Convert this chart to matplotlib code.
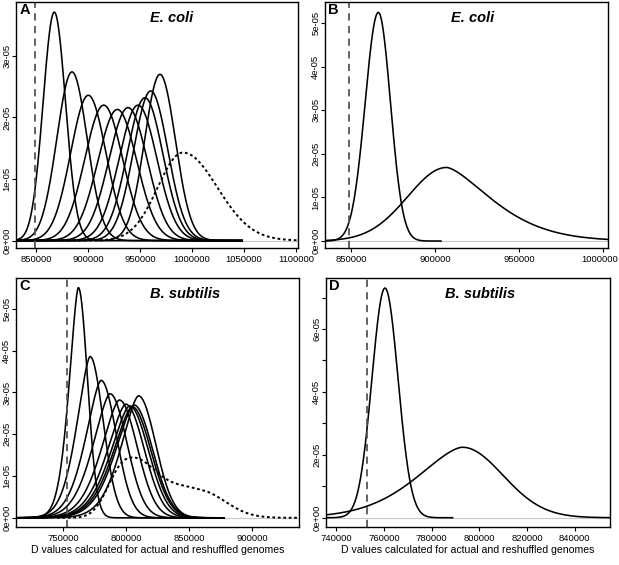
import numpy as np
import matplotlib
matplotlib.use("Agg")
import matplotlib.pyplot as plt
from matplotlib.ticker import FixedLocator, FuncFormatter
from matplotlib.transforms import ScaledTranslation

plt.rcParams['font.family'] = ['Liberation Sans', 'DejaVu Sans']

# ---------------- data ----------------
# Each density curve: mode, peak height, left / right half-width at half maximum
# Panel A: E. coli, reshuffled genomes (solid) and random (dotted)
A_modes = [867600, 884600, 900300, 915100, 928200, 938500, 948100, 954800, 960300, 969200]
A_peaks = [3.71e-5, 2.74e-5, 2.36e-5, 2.20e-5, 2.13e-5, 2.16e-5, 2.20e-5, 2.32e-5, 2.43e-5, 2.70e-5]
A_hw = [12660, 17140, 19900, 21350, 22050, 21750, 21350, 20250, 19330, 17400]
A_dot_mode, A_dot_peak, A_dot_hl, A_dot_hr = 991300, 1.43e-5, 28500, 38800
A_actual = 849000

# Panel B: E. coli
B_modes = [866250, 906900]
B_peaks = [5.25e-5, 1.69e-5]
B_hl = [9200, 27200]
B_hr = [8500, 30700]
B_pr = [2.0, 1.5]
B_ends = [903500, 1002800]
B_actual = 849000

# Panel C: B. subtilis
C_modes = [761900, 771200, 779900, 787000, 794400, 799500, 802500, 804500, 806000, 809600]
C_peaks = [5.51e-5, 3.86e-5, 3.29e-5, 2.97e-5, 2.82e-5, 2.72e-5, 2.68e-5, 2.66e-5, 2.70e-5, 2.92e-5]
C_hw = [8520, 12170, 14270, 15810, 16660, 17270, 17530, 17660, 17400, 16090]
C_dot_modes = [805000, 860000]
C_dot_peaks = [1.44e-5, 0.60e-5]
C_dot_hl = [20000, 25000]
C_dot_hr = [26000, 23000]
C_actual = 753000

# Panel D: B. subtilis
D_modes = [760500, 792850]
D_peaks = [7.30e-5, 2.24e-5]
D_hl = [6430, 21900]
D_hr = [6430, 19950]
D_pl = [2.0, 1.6]
D_ends = [788800, 854500]
D_actual = 753000

# ---------------- helpers ----------------
def bump(x, mode, peak, hl, hr, pl=2.0, pr=2.0):
    d = x - mode
    h = np.where(d < 0, hl, hr)
    p = np.where(d < 0, pl, pr)
    return peak * np.exp(-np.log(2) * np.abs(d / h) ** p)

W, H = 619, 565
fig = plt.figure(figsize=(W / 100, H / 100), dpi=100)

def mkax(l, r, t, b):
    return fig.add_axes([l / W, 1 - b / H, (r - l) / W, (b - t) / H])

axA = mkax(16, 298, 2, 248)
axB = mkax(325, 608, 2, 248)
axC = mkax(16, 299, 278, 527)
axD = mkax(326, 609.5, 278, 527)

DOT = (0, (1.4, 1.4))
VDASH = (0, (4, 3))
LW = 1.15

def style(ax, xlim, ylim, xticks, yticks, ylabels, label, title, tx):
    ax.set_xlim(*xlim)
    ax.set_ylim(*ylim)
    ax.axhline(0, color='#c8c8c8', lw=0.8, zorder=0)
    ax.xaxis.set_major_locator(FixedLocator(xticks))
    ax.xaxis.set_major_formatter(FuncFormatter(lambda v, p: f"{int(round(v))}"))
    ax.yaxis.set_major_locator(FixedLocator(yticks))
    labs = dict(zip(yticks, ylabels))
    ax.yaxis.set_major_formatter(FuncFormatter(lambda v, p: labs.get(v, '')))
    for lab in ax.get_yticklabels():
        lab.set_rotation(90)
        lab.set_va('center')
    ax.tick_params(axis='both', direction='out', length=2.6, width=0.8, labelsize=6.8)
    ax.tick_params(axis='x', pad=2.5)
    ax.tick_params(axis='y', pad=0.8)
    for s in ax.spines.values():
        s.set_linewidth(1.0)
    ax.text(0.012, 0.995, label, transform=ax.transAxes, ha='left', va='top',
            fontsize=10.5, fontweight='bold')
    ax.text(tx, 0.935, title, transform=ax.transAxes, ha='center', va='center',
            fontsize=10.5, fontweight='bold', style='italic')

def ylabs(ticks):
    return [f"{v:.0e}" for v in ticks]

# ---- Panel A ----
xA = np.linspace(830770, 1048000, 800)
for m, pk, hw in zip(A_modes, A_peaks, A_hw):
    axA.plot(xA, bump(xA, m, pk, hw, hw), color='black', lw=LW)
xAd = np.linspace(880000, 1100500, 600)
axA.plot(xAd, bump(xAd, A_dot_mode, A_dot_peak, A_dot_hl, A_dot_hr), color='black', lw=1.4, ls=DOT)
axA.axvline(A_actual, color='#555555', lw=1.3, ls=VDASH)
yA = [0, 1e-5, 2e-5, 3e-5]
style(axA, (830770, 1101900), (-1.2e-6, 3.875e-5),
      [850000, 900000, 950000, 1000000, 1050000, 1100000], yA, ylabs(yA), 'A', 'E. coli', 0.552)

# ---- Panel B ----
for m, pk, hl, hr, pr, end in zip(B_modes, B_peaks, B_hl, B_hr, B_pr, B_ends):
    xb = np.linspace(834540, end, 700)
    axB.plot(xb, bump(xb, m, pk, hl, hr, 2.0, pr), color='black', lw=LW)
axB.axvline(B_actual, color='#555555', lw=1.3, ls=VDASH)
yB = [0, 1e-5, 2e-5, 3e-5, 4e-5, 5e-5]
style(axB, (834540, 1002800), (-1.6e-6, 5.49e-5),
      [850000, 900000, 950000, 1000000], yB, ylabs(yB), 'B', 'E. coli', 0.52)
# keep the last label inside the figure edge
_last = axB.xaxis.get_major_ticks()[-1].label1
_last.set_transform(_last.get_transform() + ScaledTranslation(-3.5 / 100, 0, fig.dpi_scale_trans))

# ---- Panel C ----
xC = np.linspace(712460, 877500, 800)
for m, pk, hw in zip(C_modes, C_peaks, C_hw):
    axC.plot(xC, bump(xC, m, pk, hw, hw, 1.6, 2.0), color='black', lw=LW)
xCd = np.linspace(745000, 935500, 700)
yCd = sum(bump(xCd, m, pk, hl, hr, 2.5, 2.0)
          for m, pk, hl, hr in zip(C_dot_modes, C_dot_peaks, C_dot_hl, C_dot_hr))
axC.plot(xCd, yCd, color='black', lw=1.4, ls=DOT)
axC.axvline(C_actual, color='#555555', lw=1.3, ls=VDASH)
yC = [0, 1e-5, 2e-5, 3e-5, 4e-5, 5e-5]
style(axC, (712460, 937000), (-2.2e-6, 5.74e-5),
      [750000, 800000, 850000, 900000], yC, ylabs(yC), 'C', 'B. subtilis', 0.597)
axC.set_xlabel('D values calculated for actual and reshuffled genomes', fontsize=7.6, labelpad=1.5)

# ---- Panel D ----
for m, pk, hl, hr, pl, end in zip(D_modes, D_peaks, D_hl, D_hr, D_pl, D_ends):
    xd = np.linspace(735800, end, 700)
    axD.plot(xd, bump(xd, m, pk, hl, hr, pl, 2.0), color='black', lw=LW)
axD.axvline(D_actual, color='#555555', lw=1.3, ls=VDASH)
yD = [0, 1e-5, 2e-5, 3e-5, 4e-5, 5e-5, 6e-5, 7e-5]
yDl = [f"{v:.0e}" if i % 2 == 0 else '' for i, v in enumerate(yD)]
style(axD, (735800, 854500), (-2.95e-6, 7.62e-5),
      [740000, 760000, 780000, 800000, 820000, 840000], yD, yDl, 'D', 'B. subtilis', 0.543)
axD.set_xlabel('D values calculated for actual and reshuffled genomes', fontsize=7.6, labelpad=1.5)

fig.savefig('out.png', dpi=100)
